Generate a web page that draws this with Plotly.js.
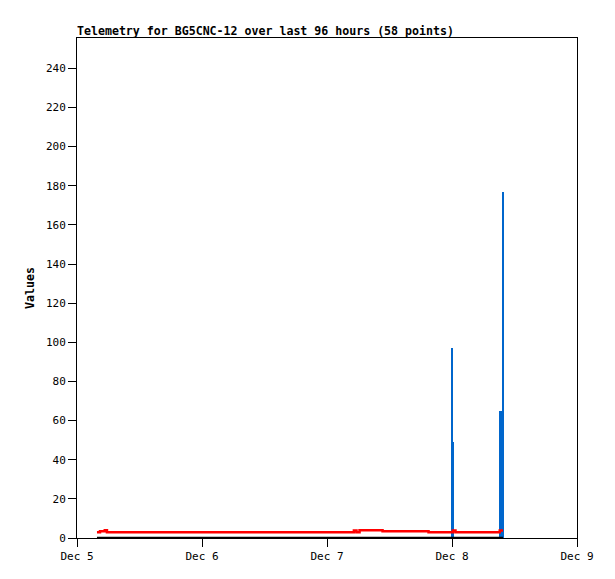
<!DOCTYPE html>
<html>
<head>
<meta charset="utf-8">
<script src="https://cdn.plot.ly/plotly-3.0.1.min.js"></script>
<style>
body{margin:0;padding:0;background:#fff;}
#chart{width:615px;height:579px;}
</style>
</head>
<body>
<div id="chart"></div>
<script>
// red series (step line)
var redTimes=['2023-12-05 03:50','2023-12-05 04:25','2023-12-05 05:20','2023-12-05 05:45',
  '2023-12-07 05:10','2023-12-07 05:40','2023-12-07 06:15','2023-12-07 10:40',
  '2023-12-07 19:30','2023-12-08 00:10','2023-12-08 00:40','2023-12-08 09:10','2023-12-08 09:48']
var redValues=[3,3.5,4,3,3.8,3,4,3.5,3,3.8,3,3.8,3.8]

// blue impulses
var blueTimes=['2023-12-08 00:00','2023-12-08 00:17','2023-12-08 09:20','2023-12-08 09:46']
var blueValues=[97,49,65,177]

// black series, sits at zero
var blackTimes=['2023-12-05 03:50','2023-12-08 09:48']
var blackValues=[0,0]

var titleText='Telemetry for BG5CNC-12 over last 96 hours (58 points)'
var fontFam='"DejaVu Sans Mono", "Liberation Mono", monospace'

data=[
    {
        type:'scatter',mode:'lines',
        x:blackTimes,y:blackValues,
        line:{color:'#000000',width:2.5},
        hoverinfo:'skip'
    },
    {
        type:'scatter',mode:'lines',
        x:redTimes,y:redValues,
        line:{color:'#ff0000',width:2.5,shape:'hv'}
    },
    {
        type:'bar',
        x:blueTimes,y:blueValues,
        width:[1500000,1100000,1800000,1500000],
        marker:{color:'#0066cc',line:{width:0}}
    }
]

layout={
    width:615,
    height:579,
    showlegend:false,
    paper_bgcolor:'#ffffff',
    plot_bgcolor:'#ffffff',
    font:{family:fontFam,size:11,color:'#000'},
    margin:{l:77,r:38,t:38,b:41},
    bargap:0,
    title:{
        text:'<b>'+titleText+'</b>',
        x:0,xref:'paper',xanchor:'left',
        y:1,yref:'paper',yanchor:'bottom',
        pad:{b:3},
        font:{family:fontFam,size:11.6,color:'#000'}
    },
    xaxis:{
        type:'date',
        range:['2023-12-05 00:00','2023-12-09 00:00'],
        dtick:86400000,
        tick0:'2023-12-05',
        tickformat:'%b %-d',
        ticks:'outside',ticklen:8,tickcolor:'#000',
        showgrid:false,zeroline:false,
        showline:true,linecolor:'#000',linewidth:1,mirror:true,
        tickfont:{family:fontFam,size:11}
    },
    yaxis:{
        range:[0,255.5],
        dtick:20,tick0:0,
        ticks:'outside',ticklen:8,tickcolor:'#000',
        showgrid:false,zeroline:false,
        showline:true,linecolor:'#000',linewidth:1,mirror:true,
        tickfont:{family:fontFam,size:11},
        title:{text:'<b>Values</b>',standoff:8,font:{family:fontFam,size:11.6}}
    }
}

Plotly.newPlot('chart',data,layout,{displayModeBar:false,staticPlot:true})
</script>
</body>
</html>
